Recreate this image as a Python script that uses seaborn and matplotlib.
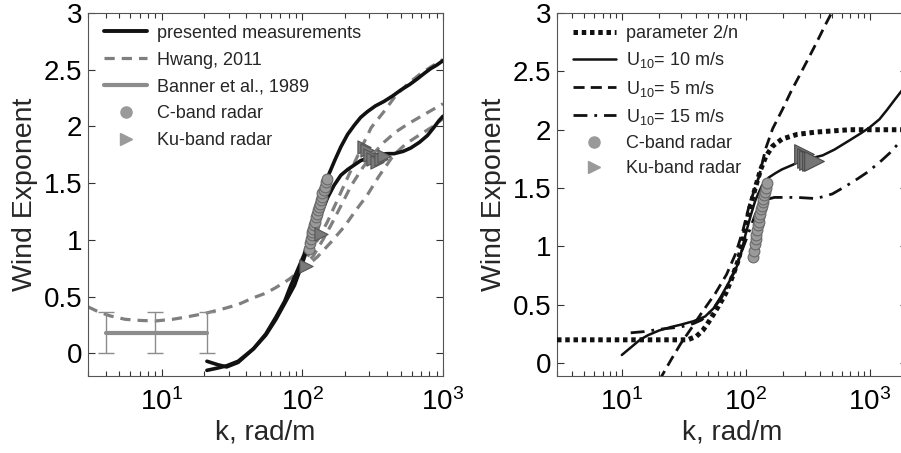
import matplotlib
matplotlib.use("Agg")
import matplotlib.pyplot as plt
import seaborn as sns
import pandas as pd
from matplotlib.lines import Line2D
from matplotlib.ticker import LogLocator, NullFormatter, FixedLocator, FixedFormatter

# ---------------- data ----------------
# Left panel: presented measurements (two black curves)
meas_a_k = [21, 25, 29, 35, 45, 55, 65, 75, 83, 93, 103, 115, 128, 140, 151, 170, 188, 210, 234,
            260, 290, 330, 380, 440, 500, 580, 658, 740, 818, 900, 1000]
meas_a_y = [-0.07, -0.10, -0.12, -0.08, 0.04, 0.17, 0.32, 0.46, 0.60, 0.74, 0.87, 1.06, 1.26, 1.43, 1.55,
            1.70, 1.82, 1.93, 2.01, 2.08, 2.13, 2.18, 2.22, 2.27, 2.32, 2.37, 2.42, 2.47, 2.51, 2.54, 2.58]
meas_b_k = [21, 25, 29, 35, 45, 55, 65, 75, 88, 98, 109, 122, 136, 151, 168, 188, 210, 234, 261, 307,
            342, 400, 449, 520, 590, 680, 775, 860, 935, 1000]
meas_b_y = [-0.15, -0.13, -0.11, -0.07, 0.04, 0.16, 0.30, 0.44, 0.60, 0.76, 0.93, 1.07, 1.23, 1.37, 1.48,
            1.57, 1.62, 1.66, 1.70, 1.73, 1.75, 1.76, 1.76, 1.78, 1.81, 1.86, 1.92, 1.99, 2.05, 2.09]

# Hwang, 2011 (common low-k part and three branches)
hwang_k = [3, 3.5, 4.3, 5.5, 7, 9, 12, 15, 20, 27, 35, 45, 55, 65, 80, 95]
hwang_y = [0.41, 0.37, 0.33, 0.30, 0.29, 0.285, 0.30, 0.32, 0.35, 0.39, 0.43, 0.49, 0.53, 0.58, 0.65, 0.72]
hwang1_k = [95, 110, 130, 151, 185, 223, 265, 309, 380, 460, 556, 700, 910, 1000]
hwang1_y = [0.72, 0.86, 1.01, 1.16, 1.40, 1.62, 1.82, 1.99, 2.13, 2.27, 2.37, 2.47, 2.56, 2.59]
hwang2_k = [95, 120, 140, 160, 190, 223, 270, 320, 380, 460, 560, 700, 850, 1000]
hwang2_y = [0.72, 0.86, 1.00, 1.13, 1.31, 1.48, 1.64, 1.76, 1.86, 1.95, 2.02, 2.09, 2.15, 2.20]
hwang3_k = [95, 110, 128, 160, 200, 240, 288, 350, 447, 550, 690, 850, 1000]
hwang3_y = [0.72, 0.78, 0.85, 0.98, 1.12, 1.26, 1.39, 1.56, 1.75, 1.85, 1.93, 2.00, 2.07]

# Banner et al., 1989
banner_k = [4, 9, 21]
banner_y = [0.18, 0.18, 0.18]
banner_err = [0.18, 0.18, 0.18]

# Radar points, left panel
cband_l_k = [112, 113, 115, 117, 118, 120, 121, 123, 125, 127, 129, 131, 133, 135, 137, 139, 142, 145, 148, 150]
cband_l_y = [0.92, 0.97, 1.01, 1.04, 1.07, 1.10, 1.13, 1.16, 1.20, 1.23, 1.26, 1.29, 1.32, 1.35, 1.38, 1.41, 1.44, 1.47, 1.51, 1.54]
kuband_l_k = [107, 135, 275, 290, 305, 320, 340, 360, 380]
kuband_l_y = [0.77, 1.05, 1.82, 1.79, 1.75, 1.71, 1.69, 1.71, 1.74]

# Right panel
param_k = [3, 34, 40, 45, 50, 55, 62, 69, 78, 87, 96, 105, 113, 120, 132, 145, 165, 196, 260, 370, 690, 2000]
param_y = [0.2, 0.2, 0.23, 0.28, 0.35, 0.42, 0.51, 0.60, 0.74, 0.88, 1.07, 1.28, 1.41, 1.51, 1.66, 1.77,
           1.86, 1.92, 1.96, 1.98, 2.0, 2.0]
u10_k = [10, 12, 14, 16.3, 20, 25, 30, 38, 47, 55, 63, 72, 83, 92, 100, 110, 120, 135, 153, 175, 196,
         240, 286, 350, 417, 520, 690, 850, 1000, 1200, 1380, 1600, 1800, 2000]
u10_y = [0.07, 0.14, 0.20, 0.24, 0.28, 0.31, 0.33, 0.36, 0.40, 0.47, 0.57, 0.68, 0.80, 0.95, 1.11, 1.27,
         1.40, 1.52, 1.59, 1.63, 1.66, 1.70, 1.74, 1.76, 1.78, 1.83, 1.91, 1.97, 2.02, 2.09, 2.17, 2.26, 2.33, 2.40]
u5_k = [20, 25, 30, 37, 44, 57, 70, 83, 95, 106, 117, 128, 137, 145, 165, 197, 230, 270, 320, 370, 430, 520]
u5_y = [-0.15, 0.03, 0.17, 0.31, 0.43, 0.60, 0.76, 0.94, 1.14, 1.34, 1.48, 1.60, 1.73, 1.84, 2.01, 2.17,
        2.32, 2.46, 2.61, 2.74, 2.88, 3.05]
u15_k = [11.8, 15, 20, 30, 38, 44, 52, 63, 73, 83, 92, 100, 110, 120, 132, 145, 170, 196, 260, 370, 500,
         650, 800, 940, 1200, 1450, 1700, 2000]
u15_y = [0.26, 0.27, 0.29, 0.31, 0.34, 0.37, 0.44, 0.55, 0.68, 0.82, 0.95, 1.05, 1.17, 1.28, 1.36, 1.40,
         1.42, 1.42, 1.42, 1.41, 1.45, 1.52, 1.58, 1.63, 1.72, 1.80, 1.88, 1.95]
cband_r_k = [115, 116, 118, 120, 121, 123, 125, 127, 129, 131, 133, 135, 137, 139, 141, 143, 145, 148]
cband_r_y = [0.91, 0.96, 1.02, 1.06, 1.10, 1.14, 1.18, 1.21, 1.25, 1.28, 1.32, 1.35, 1.38, 1.41, 1.44, 1.47, 1.50, 1.54]
kuband_r_k = [295, 310, 325, 340, 355]
kuband_r_y = [1.79, 1.76, 1.74, 1.73, 1.73]

ytick_vals = [0, 0.5, 1, 1.5, 2, 2.5, 3]
ytick_labels = ["0", "0.5", "1", "1.5", "2", "2.5", "3"]

left_labels = ["presented measurements", "Hwang, 2011", "Banner et al., 1989", "C-band radar", "Ku-band radar"]
right_labels = ["parameter 2/n", "U$_{10}$= 10 m/s", "U$_{10}$= 5 m/s", "U$_{10}$= 15 m/s", "C-band radar", "Ku-band radar"]

# ---------------- style ----------------
sns.set_theme(style="ticks")
plt.rcParams["font.family"] = ["Liberation Sans", "DejaVu Sans"]
plt.rcParams["mathtext.fontset"] = "custom"
plt.rcParams["mathtext.rm"] = "Liberation Sans"
plt.rcParams["mathtext.it"] = "Liberation Sans:italic"
plt.rcParams["mathtext.bf"] = "Liberation Sans:bold"
plt.rcParams["xtick.minor.visible"] = True

BLACK = "#111111"
GRAY = "#7f7f7f"
MGRAY = "#8c8c8c"
MK_FACE = "#9a9a9a"
MK_EDGE = "#6a6a6a"

fig = plt.figure(figsize=(9.01, 4.53), dpi=100)
fig.patch.set_facecolor("white")
ax1 = fig.add_axes([88 / 901, 77 / 453, 355 / 901, 363 / 453])
ax2 = fig.add_axes([557 / 901, 77 / 453, 350 / 901, 363 / 453])


def line(ax, k, y, **kw):
    df = pd.DataFrame({"k": k, "y": y})
    sns.lineplot(data=df, x="k", y="y", ax=ax, sort=False, estimator=None, legend=False, **kw)


def pts(ax, k, y, **kw):
    df = pd.DataFrame({"k": k, "y": y})
    sns.scatterplot(data=df, x="k", y="y", ax=ax, legend=False, **kw)


# ---------------- left panel ----------------
hw_ls = (0, (3.2, 2.2))
line(ax1, hwang_k, hwang_y, color=GRAY, lw=2.3, linestyle=hw_ls, zorder=2)
line(ax1, hwang1_k, hwang1_y, color=GRAY, lw=2.3, linestyle=hw_ls, zorder=2)
line(ax1, hwang2_k, hwang2_y, color=GRAY, lw=2.3, linestyle=hw_ls, zorder=2)
line(ax1, hwang3_k, hwang3_y, color=GRAY, lw=2.3, linestyle=hw_ls, zorder=2)

ax1.errorbar(banner_k, banner_y, yerr=banner_err, fmt="none", ecolor=MGRAY,
             elinewidth=1.0, capsize=5.5, capthick=1.0, zorder=2)
line(ax1, banner_k, banner_y, color=MGRAY, lw=3.0, zorder=3)

line(ax1, meas_a_k, meas_a_y, color=BLACK, lw=2.6, zorder=4)
line(ax1, meas_b_k, meas_b_y, color=BLACK, lw=2.6, zorder=4)

pts(ax1, cband_l_k, cband_l_y, marker="o", s=60, color=MK_FACE, edgecolor=MK_EDGE, linewidth=0.8, zorder=5)
pts(ax1, kuband_l_k, kuband_l_y, marker=">", s=90, color="#7a7a7a", edgecolor="#555555", linewidth=0.8, zorder=5)

# ---------------- right panel ----------------
line(ax2, param_k, param_y, color=BLACK, lw=3.6, linestyle=(0, (0.9, 0.75)), zorder=3)
line(ax2, u10_k, u10_y, color=BLACK, lw=1.8, zorder=4)
line(ax2, u5_k, u5_y, color=BLACK, lw=2.0, linestyle=(0, (4, 2.2)), zorder=4)
line(ax2, u15_k, u15_y, color=BLACK, lw=2.0, linestyle=(0, (5, 2.5, 1, 2.5)), zorder=4)
pts(ax2, cband_r_k, cband_r_y, marker="o", s=60, color=MK_FACE, edgecolor=MK_EDGE, linewidth=0.8, zorder=5)
pts(ax2, kuband_r_k, kuband_r_y, marker=">", s=200, color="#757575", edgecolor="#4a4a4a", linewidth=0.8, zorder=5)

# ---------------- axes styling ----------------
for ax, xlim, ylim in [(ax1, (3, 1000), (-0.2, 3)), (ax2, (3, 2000), (-0.11, 3))]:
    ax.set_xscale("log")
    ax.set_xlim(*xlim)
    ax.set_ylim(*ylim)
    ax.xaxis.set_major_locator(LogLocator(base=10, numticks=10))
    ax.xaxis.set_minor_locator(LogLocator(base=10, subs=[2, 3, 4, 5, 6, 7, 8, 9], numticks=20))
    ax.xaxis.set_minor_formatter(NullFormatter())
    ax.yaxis.set_major_locator(FixedLocator(ytick_vals))
    ax.yaxis.set_major_formatter(FixedFormatter(ytick_labels))
    ax.tick_params(which="both", direction="in", top=True, right=True, color="#333333", labelcolor="black")
    ax.tick_params(which="major", length=5, width=0.8, labelsize=20)
    ax.tick_params(axis="x", which="major", pad=9)
    ax.tick_params(axis="y", which="major", pad=4)
    ax.tick_params(axis="x", which="minor", length=3.5, width=0.8, bottom=True, top=True)
    for sp in ax.spines.values():
        sp.set_color("#555555")
        sp.set_linewidth(0.8)
        sp.set_visible(True)
    ax.set_xlabel("k, rad/m", fontsize=20, labelpad=2)
    ax.set_ylabel("Wind Exponent", fontsize=20.5, labelpad=4)
    ax.set_facecolor("white")
    ax.grid(False)

# ---------------- legends ----------------
lh = [
    Line2D([], [], color=BLACK, lw=2.8),
    Line2D([], [], color=GRAY, lw=2.3, linestyle=(0, (3.2, 2.2))),
    Line2D([], [], color=MGRAY, lw=3.0),
    Line2D([], [], linestyle="none", marker="o", markersize=8, markerfacecolor=MK_FACE, markeredgecolor=MK_FACE),
    Line2D([], [], linestyle="none", marker=">", markersize=9, markerfacecolor=MK_FACE, markeredgecolor=MK_FACE),
]
ax1.legend(handles=lh, labels=left_labels, loc="upper left", bbox_to_anchor=(0.045, 0.968),
           frameon=False, fontsize=13, handlelength=2.4, handletextpad=0.55,
           labelspacing=0.55, borderpad=0, borderaxespad=0)

rh = [
    Line2D([], [], color=BLACK, lw=3.6, linestyle=(0, (0.9, 0.75))),
    Line2D([], [], color=BLACK, lw=1.8),
    Line2D([], [], color=BLACK, lw=2.0, linestyle=(0, (4, 2.2))),
    Line2D([], [], color=BLACK, lw=2.0, linestyle=(0, (5, 2.5, 1, 2.5))),
    Line2D([], [], linestyle="none", marker="o", markersize=8, markerfacecolor=MK_FACE, markeredgecolor=MK_FACE),
    Line2D([], [], linestyle="none", marker=">", markersize=9, markerfacecolor=MK_FACE, markeredgecolor=MK_FACE),
]
ax2.legend(handles=rh, labels=right_labels, loc="upper left", bbox_to_anchor=(0.045, 0.966),
           frameon=False, fontsize=13, handlelength=2.4, handletextpad=0.55,
           labelspacing=0.45, borderpad=0, borderaxespad=0)

fig.savefig("out.png", dpi=100)
